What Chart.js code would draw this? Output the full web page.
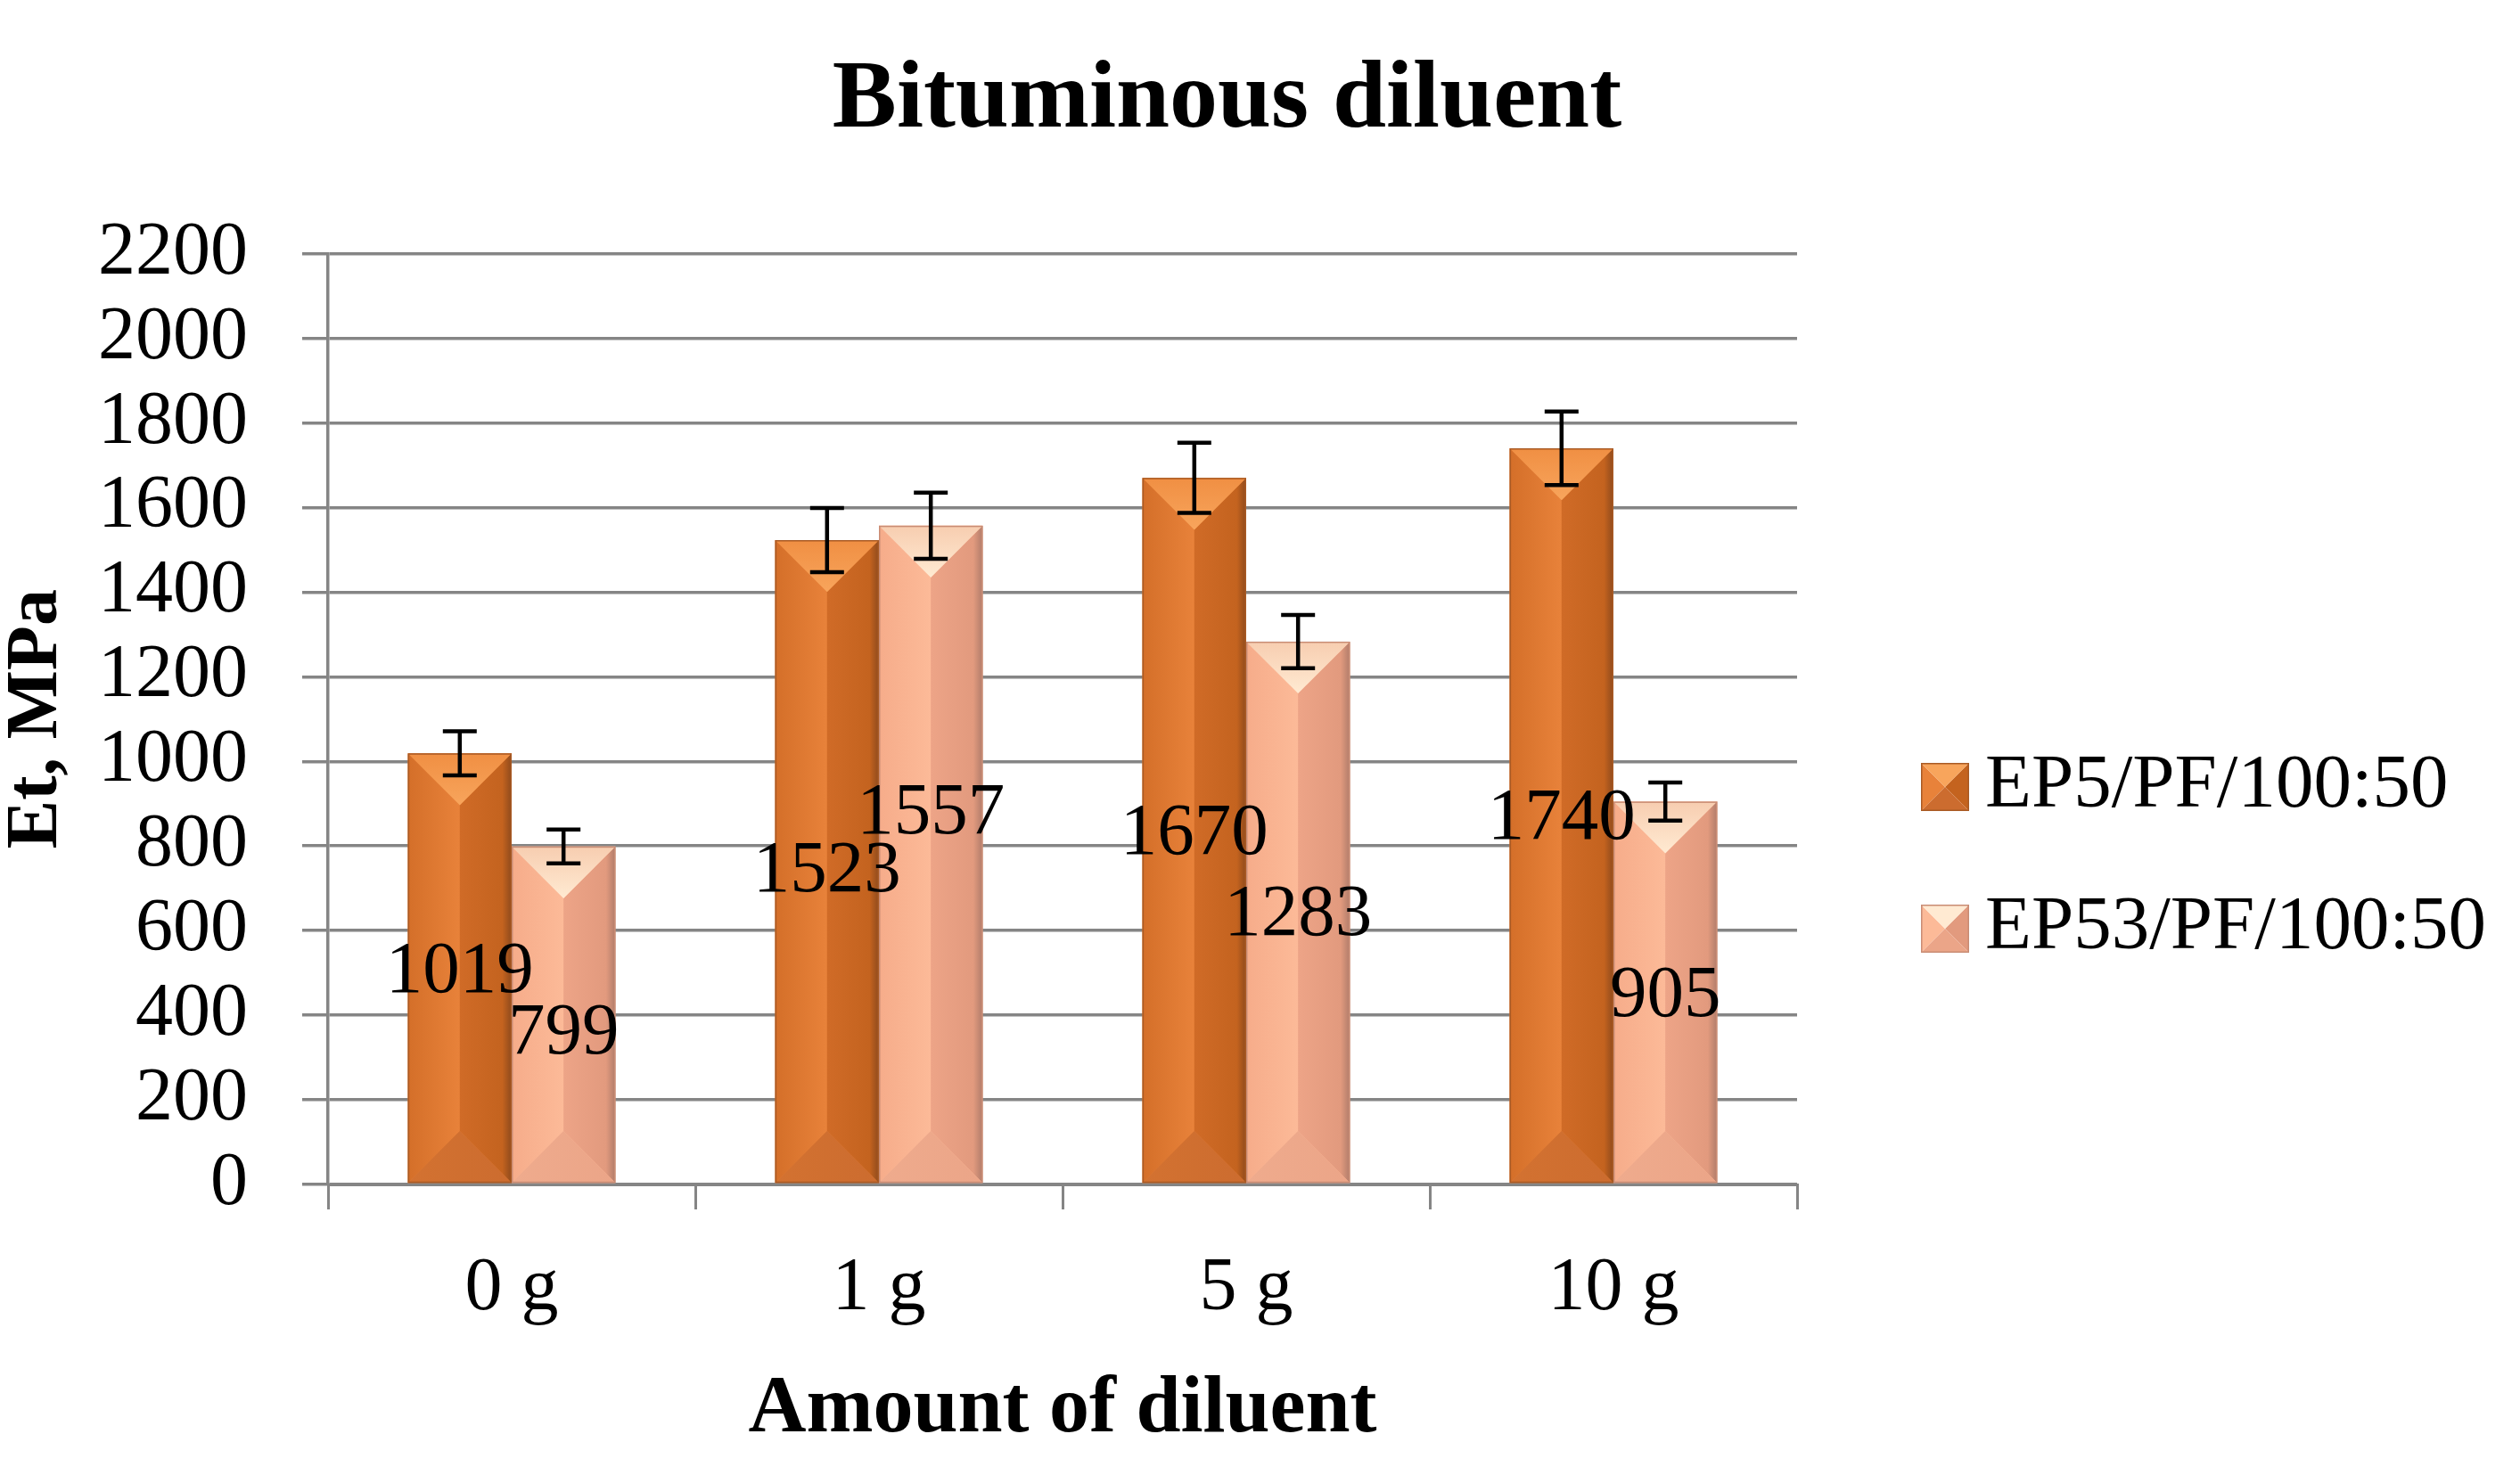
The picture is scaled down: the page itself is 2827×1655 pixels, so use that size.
<!DOCTYPE html>
<html><head><meta charset="utf-8">
<script src="https://cdn.jsdelivr.net/npm/chart.js@4.4.1/dist/chart.umd.min.js"></script>
<style>html,body{margin:0;padding:0;background:#fff;}#wrap{width:2827px;height:1655px;}</style>
</head><body><div id="wrap"><canvas id="c" width="2827" height="1655"></canvas></div>
<script>
// ---- data ----
const categories = ['0 g', '1 g', '5 g', '10 g'];
const seriesNames = ['EP5/PF/100:50', 'EP53/PF/100:50'];
const ep5Values = [1019, 1523, 1670, 1740];
const ep53Values = [799, 1557, 1283, 905];
const ep5Errors = [52, 76, 83, 87];
const ep53Errors = [40, 78, 63, 45];
// value (in MPa units) at which each data label is anchored, as in the original
const ep5LabelAt = [501, 738, 827, 864];
const ep53LabelAt = [356, 875, 636, 444];
const yTicks = [0, 200, 400, 600, 800, 1000, 1200, 1400, 1600, 1800, 2000, 2200];
const titleText = 'Bituminous diluent';
const xTitle = 'Amount of diluent';
const yTitle = 'Et, MPa';

const FONT = "'Liberation Serif', 'Times New Roman', serif";
const GRID = '#858585';

const palettes = [
  {base:'#E27B32', leftA:'#D46F29', leftB:'#E8823A', rightA:'#D06B27', rightB:'#C4631F', rightC:'#8E4A1C',
   topA:'#F08F43', topB:'#F8A55C', botA:'#CC6C2F', botB:'#D37231', edge:'#A95A24'},
  {base:'#FBB594', leftA:'#F6AC8A', leftB:'#FCBA98', rightA:'#EDA487', rightB:'#E29A7E', rightC:'#B07C6A',
   topA:'#F7CDB0', topB:'#FFEAD2', botA:'#EBA588', botB:'#EFAB8D', edge:'#C98C74'}
];
const errorSets = [ep5Errors, ep53Errors];
const labelSets = [ep5LabelAt, ep53LabelAt];

function poly(ctx, pts, fill) {
  ctx.beginPath();
  ctx.moveTo(pts[0][0], pts[0][1]);
  for (let i = 1; i < pts.length; i++) ctx.lineTo(pts[i][0], pts[i][1]);
  ctx.closePath();
  ctx.fillStyle = fill;
  ctx.fill();
}

function bevel(ctx, l, r, t, b, p) {
  const w = r - l, c = (l + r) / 2, d = Math.min(w / 2, (b - t) / 2);
  let g = ctx.createLinearGradient(l, 0, c, 0);
  g.addColorStop(0, p.leftA); g.addColorStop(1, p.leftB);
  poly(ctx, [[l, t], [c, t + d], [c, b - d], [l, b]], g);
  g = ctx.createLinearGradient(c, 0, r, 0);
  g.addColorStop(0, p.rightA); g.addColorStop(0.82, p.rightB); g.addColorStop(1, p.rightC);
  poly(ctx, [[r, t], [c, t + d], [c, b - d], [r, b]], g);
  g = ctx.createLinearGradient(0, t, 0, t + d);
  g.addColorStop(0, p.topA); g.addColorStop(1, p.topB);
  poly(ctx, [[l, t], [r, t], [c, t + d]], g);
  g = ctx.createLinearGradient(l, 0, r, 0);
  g.addColorStop(0, p.botB); g.addColorStop(1, p.botA);
  poly(ctx, [[l, b], [r, b], [c, b - d]], g);
  ctx.strokeStyle = p.edge;
  ctx.lineWidth = 1.5;
  ctx.strokeRect(l + 0.75, t + 0.75, w - 1.5, b - t - 1.5);
}

const decorPlugin = {
  id: 'decor',
  afterDatasetsDraw(chart) {
    const ctx = chart.ctx;
    const yScale = chart.scales.y;
    ctx.save();
    chart.data.datasets.forEach((ds, di) => {
      const meta = chart.getDatasetMeta(di);
      meta.data.forEach((bar) => {
        const {x, y, base, width} = bar.getProps(['x', 'y', 'base', 'width'], true);
        bevel(ctx, x - width / 2, x + width / 2, y, base, palettes[di]);
      });
    });
    ctx.strokeStyle = '#000';
    ctx.lineWidth = 4.5;
    chart.data.datasets.forEach((ds, di) => {
      const meta = chart.getDatasetMeta(di);
      meta.data.forEach((bar, i) => {
        const v = ds.data[i], e = errorSets[di][i];
        const x = bar.x;
        const yt = yScale.getPixelForValue(v + e), yb = yScale.getPixelForValue(v - e);
        const cap = 19;
        ctx.beginPath();
        ctx.moveTo(x, yt); ctx.lineTo(x, yb);
        ctx.moveTo(x - cap, yt); ctx.lineTo(x + cap, yt);
        ctx.moveTo(x - cap, yb); ctx.lineTo(x + cap, yb);
        ctx.stroke();
      });
    });
    ctx.fillStyle = '#000';
    ctx.font = '83px ' + FONT;
    ctx.textAlign = 'center';
    ctx.textBaseline = 'middle';
    chart.data.datasets.forEach((ds, di) => {
      const meta = chart.getDatasetMeta(di);
      meta.data.forEach((bar, i) => {
        ctx.fillText(String(ds.data[i]), bar.x, yScale.getPixelForValue(labelSets[di][i]));
      });
    });
    ctx.restore();
  },
  afterDraw(chart) {
    const ctx = chart.ctx;
    ctx.save();
    const x0 = 2155, size = 54, ys = [883, 1042];
    chart.data.datasets.forEach((ds, di) => {
      const p = palettes[di];
      const cy = ys[di], l = x0, r = x0 + size, t = cy - size / 2, b = cy + size / 2, c = (l + r) / 2, m = cy;
      poly(ctx, [[l, t], [c, m], [l, b]], p.leftB);
      poly(ctx, [[r, t], [c, m], [r, b]], p.rightB);
      poly(ctx, [[l, t], [r, t], [c, m]], p.topB);
      poly(ctx, [[l, b], [r, b], [c, m]], p.botA);
      ctx.strokeStyle = p.edge; ctx.lineWidth = 1.5;
      ctx.strokeRect(l + 0.75, t + 0.75, size - 1.5, size - 1.5);
      ctx.fillStyle = '#000';
      ctx.font = '85px ' + FONT;
      ctx.textAlign = 'left';
      ctx.textBaseline = 'middle';
      ctx.fillText(ds.label, 2227, cy);
    });
    ctx.restore();
  }
};

Chart.defaults.font.family = FONT;
Chart.defaults.color = '#000';

new Chart(document.getElementById('c'), {
  type: 'bar',
  data: {
    labels: categories,
    datasets: [
      {label: seriesNames[0], data: ep5Values, backgroundColor: palettes[0].base, borderWidth: 0,
       categoryPercentage: 0.565, barPercentage: 1},
      {label: seriesNames[1], data: ep53Values, backgroundColor: palettes[1].base, borderWidth: 0,
       categoryPercentage: 0.565, barPercentage: 1}
    ]
  },
  options: {
    responsive: false,
    devicePixelRatio: 1,
    animation: false,
    layout: {padding: {left: 0, right: 74, top: 0, bottom: 0}},
    plugins: {
      legend: {display: false},
      tooltip: {enabled: false},
      title: {
        display: true, text: titleText, color: '#000',
        font: {size: 108, weight: 'bold', family: FONT},
        padding: {top: 49, bottom: 106}
      }
    },
    scales: {
      x: {
        type: 'category',
        grid: {offset: true, drawOnChartArea: false, drawTicks: true, tickLength: 28, color: GRID, lineWidth: 3},
        border: {display: true, color: GRID, width: 3},
        ticks: {font: {size: 84, family: FONT}, padding: 40, color: '#000', maxRotation: 0, autoSkip: false},
        title: {display: true, text: xTitle, color: '#000', font: {size: 90, weight: 'bold', family: FONT},
                padding: {top: 0, bottom: 18}},
        afterFit(s) { s.height = 326; }
      },
      y: {
        type: 'linear', position: 'left', min: yTicks[0], max: yTicks[yTicks.length - 1],
        afterBuildTicks(s) { s.ticks = yTicks.map(v => ({value: v})); },
        ticks: {autoSkip: false, font: {size: 84, family: FONT}, padding: 61, color: '#000',
                callback: (v) => String(v)},
        grid: {color: GRID, lineWidth: 3.5, tickLength: 29, drawTicks: true},
        border: {display: true, color: GRID, width: 3.5},
        title: {display: true, text: yTitle, color: '#000',
                font: {size: 82, weight: 'bold', family: FONT, lineHeight: 1}, padding: {top: 1, bottom: 0}},
        afterFit(s) { s.width = 368; }
      },
      legendSpace: {
        type: 'linear', position: 'right', display: true,
        grid: {display: false}, ticks: {display: false}, border: {display: false},
        afterFit(s) { s.width = 737; }
      }
    }
  },
  plugins: [decorPlugin]
});
</script>
</body></html>
